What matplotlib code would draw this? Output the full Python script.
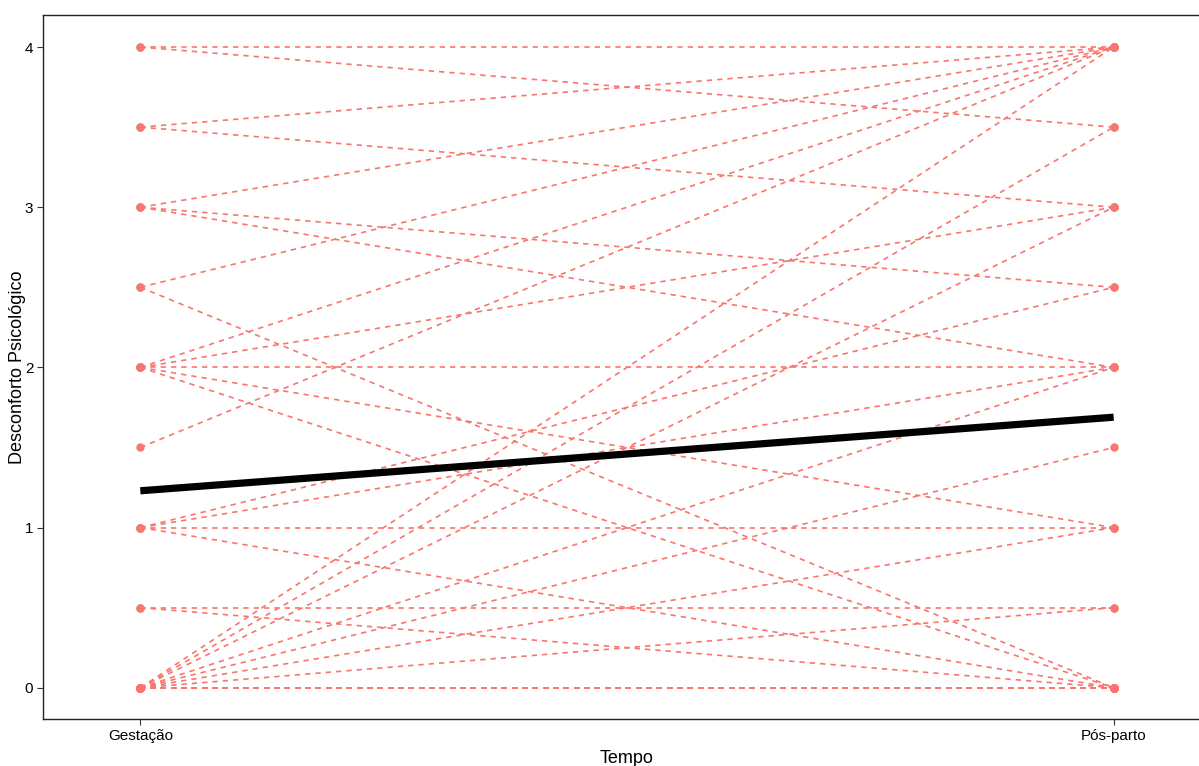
import matplotlib.pyplot as plt
import numpy as np

plt.rcParams['font.family'] = ['Liberation Sans', 'DejaVu Sans']

# scores per participant: pregnancy (Gestação) and postpartum (Pós-parto)
gestacao = [4, 4, 3.5, 3.5, 3, 3, 3, 2.5, 2.5, 2, 2, 2, 2, 2, 1.5,
            1, 1, 1, 1, 0.5, 0.5, 0, 0, 0, 0, 0, 0, 0, 0,
            0, 0, 0, 0, 0, 0, 0, 0]
pos_parto = [4, 3.5, 4, 3, 4, 2.5, 2, 4, 0, 4, 3, 2, 1, 0, 4,
             2.5, 2, 1, 0, 0.5, 0, 0, 0.5, 1, 1.5, 2, 3, 3.5, 4,
             0, 0, 0, 0, 0, 0, 0, 0]
tempos = ['Gestação', 'Pós-parto']
y_ticks = [0, 1, 2, 3, 4]

W, H = 1199, 766
fig = plt.figure(figsize=(W / 100, H / 100), dpi=100)
ax = fig.add_axes([43 / W, (H - 719) / H, (1211 - 43) / W, (719 - 15) / H])

xpos = np.arange(1, len(tempos) + 1)
for g, p in zip(gestacao, pos_parto):
    ax.plot(xpos, [g, p], color='#F8766D', lw=1.2, ls=(0, (3.2, 3.0)),
            marker='o', ms=5, mec='#F8766D', mfc='#F8766D', zorder=2)

# mean trajectory
ax.plot(xpos, [np.mean(gestacao), np.mean(pos_parto)], color='black',
        lw=5.2, solid_capstyle='butt', zorder=3)

ax.set_xlim(0.9, 2.1)
ax.set_ylim(-0.195, 4.2)
ax.set_xticks(xpos)
ax.set_xticklabels(tempos, fontsize=11)
ax.set_yticks(y_ticks)
ax.set_yticklabels([str(v) for v in y_ticks], fontsize=11)
ax.tick_params(length=4, width=0.8, color='#333333', pad=3)
ax.set_xlabel('Tempo', fontsize=13, labelpad=5)
ax.set_ylabel('Desconforto Psicológico', fontsize=13)
ax.yaxis.set_label_coords((26 - 43) / (1211 - 43), 0.5)

for side in ['left', 'bottom', 'top']:
    ax.spines[side].set_linewidth(1.0)
    ax.spines[side].set_color('#222222')
ax.spines['right'].set_visible(False)

fig.savefig('out.png', dpi=100)
